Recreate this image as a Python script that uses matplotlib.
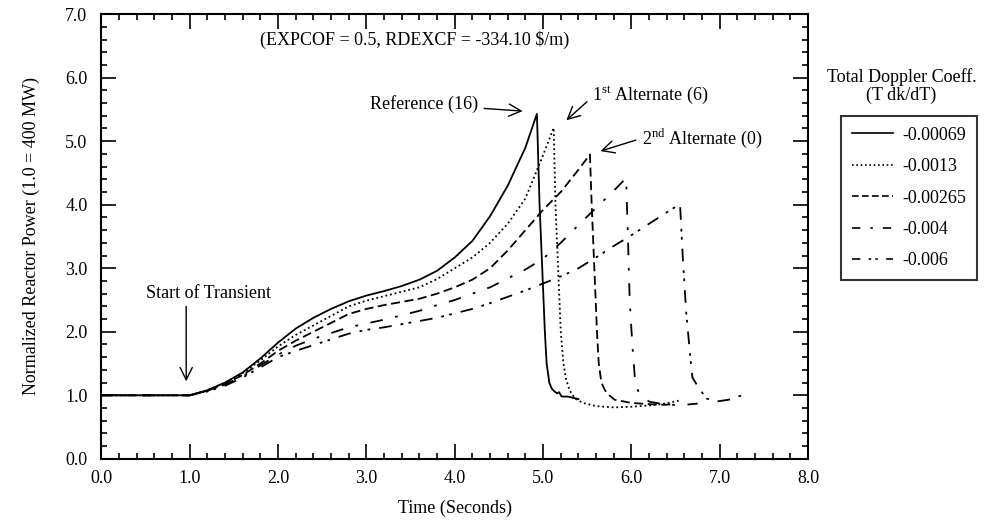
import matplotlib
matplotlib.use("Agg")
import matplotlib.pyplot as plt
from matplotlib.lines import Line2D
from matplotlib.ticker import MultipleLocator, FormatStrFormatter

plt.rcParams['font.family'] = ['Liberation Serif', 'DejaVu Serif']

# ---- data ----
t_a = [0, 1.0, 1.2, 1.4, 1.6, 1.8, 2.0, 2.2, 2.4, 2.6, 2.8, 3.0, 3.2, 3.4, 3.6, 3.8, 4.0, 4.2, 4.4, 4.6, 4.8, 4.93,
       4.96, 4.99, 5.02, 5.04, 5.07, 5.10, 5.13, 5.16, 5.18, 5.21, 5.28, 5.40]
p_a = [1.0, 1.0, 1.08, 1.2, 1.36, 1.58, 1.83, 2.05, 2.22, 2.36, 2.48, 2.57, 2.64, 2.72, 2.82, 2.96, 3.17, 3.43, 3.82, 4.3, 4.9, 5.43,
       4.0, 3.0, 2.0, 1.5, 1.2, 1.1, 1.06, 1.03, 1.05, 0.98, 0.98, 0.94]

t_b = [0, 1.0, 1.2, 1.4, 1.6, 1.8, 2.0, 2.2, 2.4, 2.6, 2.8, 3.0, 3.2, 3.4, 3.6, 3.8, 4.0, 4.2, 4.4, 4.6, 4.8, 5.0, 5.12,
       5.14, 5.17, 5.20, 5.23, 5.26, 5.30, 5.36, 5.45, 5.6, 5.8, 6.0, 6.2, 6.38, 6.55]
p_b = [1.0, 1.0, 1.08, 1.2, 1.35, 1.55, 1.77, 1.95, 2.1, 2.25, 2.4, 2.49, 2.56, 2.63, 2.7, 2.83, 3.0, 3.17, 3.4, 3.7, 4.1, 4.78, 5.21,
       4.0, 3.0, 2.0, 1.5, 1.25, 1.08, 0.95, 0.88, 0.83, 0.81, 0.82, 0.84, 0.87, 0.92]

t_c = [0, 1.0, 1.2, 1.4, 1.6, 1.8, 2.0, 2.2, 2.4, 2.6, 2.8, 3.0, 3.2, 3.4, 3.6, 3.8, 4.0, 4.2, 4.4, 4.6, 4.8, 5.0, 5.2, 5.4, 5.53,
       5.55, 5.58, 5.61, 5.63, 5.66, 5.70, 5.75, 5.81, 6.0, 6.2, 6.38, 6.45]
p_c = [1.0, 1.0, 1.07, 1.18, 1.32, 1.5, 1.7, 1.86, 2.0, 2.14, 2.28, 2.36, 2.42, 2.47, 2.52, 2.6, 2.7, 2.82, 3.0, 3.28, 3.6, 3.92, 4.2, 4.55, 4.79,
       4.0, 3.0, 2.0, 1.5, 1.2, 1.08, 1.0, 0.93, 0.88, 0.86, 0.85, 0.86]

t_d = [0, 1.0, 1.2, 1.4, 1.6, 1.8, 2.0, 2.2, 2.4, 2.6, 2.8, 3.0, 3.2, 3.4, 3.6, 3.8, 4.0, 4.2, 4.4, 4.6, 4.8, 5.0, 5.2, 5.4, 5.6, 5.8, 5.94,
       5.96, 5.98, 6.01, 6.04, 6.08, 6.2, 6.4, 6.6, 6.75]
p_d = [1.0, 1.0, 1.07, 1.17, 1.3, 1.47, 1.64, 1.78, 1.89, 1.98, 2.07, 2.13, 2.19, 2.26, 2.33, 2.42, 2.5, 2.6, 2.7, 2.84, 2.98, 3.15, 3.4, 3.68, 3.95, 4.22, 4.42,
       3.5, 2.5, 1.8, 1.25, 1.05, 0.9, 0.85, 0.85, 0.87]

t_e = [0, 1.0, 1.2, 1.4, 1.6, 1.8, 2.0, 2.2, 2.4, 2.6, 2.8, 3.0, 3.2, 3.4, 3.6, 3.8, 4.0, 4.2, 4.4, 4.6, 4.8, 5.0, 5.2, 5.4, 5.6, 5.8, 6.0, 6.2, 6.4, 6.55,
       6.58, 6.62, 6.66, 6.69, 6.76, 6.85, 6.95, 7.1, 7.25]
p_e = [1.0, 1.0, 1.06, 1.15, 1.28, 1.44, 1.6, 1.7, 1.79, 1.88, 1.97, 2.03, 2.07, 2.12, 2.17, 2.22, 2.29, 2.36, 2.45, 2.55, 2.65, 2.76, 2.87, 3.0, 3.17, 3.35, 3.52, 3.7, 3.88, 4.01,
       3.2, 2.3, 1.7, 1.28, 1.12, 0.95, 0.9, 0.93, 1.0]

labels = ['-0.00069', '-0.0013', '-0.00265', '-0.004', '-0.006']
xticks = [0, 1, 2, 3, 4, 5, 6, 7, 8]
yticks = [0, 1, 2, 3, 4, 5, 6, 7]

styles = ['-', (0, (1, 1.6)), (0, (5, 2.5)), (0, (7, 7, 1.5, 7)), (0, (7, 5, 1.5, 3, 1.5, 5))]
leg_styles = ['-', (0, (1, 1.6)), (0, (4, 2)), (0, (5, 6, 1.5, 6)), (0, (5, 5, 1.5, 2.5, 1.5, 5))]

fs = 13
fig = plt.figure(figsize=(9.94, 5.22), dpi=100)
ax = fig.add_axes([0.102, 0.121, 0.711, 0.852])

for (tt, pp), ls in zip([(t_a, p_a), (t_b, p_b), (t_c, p_c), (t_d, p_d), (t_e, p_e)], styles):
    ax.plot(tt, pp, color='black', lw=1.3, linestyle=ls)

ax.set_xlim(0, 8)
ax.set_ylim(0, 7)
ax.set_xticks(xticks)
ax.set_yticks(yticks)
ax.xaxis.set_major_formatter(FormatStrFormatter('%.1f'))
ax.yaxis.set_major_formatter(FormatStrFormatter('%.1f'))
ax.xaxis.set_minor_locator(MultipleLocator(0.2))
ax.yaxis.set_minor_locator(MultipleLocator(0.2))
ax.tick_params(which='both', direction='in', top=True, right=True, width=1.2, labelsize=fs)
ax.tick_params(which='major', length=11)
ax.tick_params(which='minor', length=4)
ax.tick_params(axis='x', pad=8)
ax.tick_params(axis='y', pad=10)
for s in ax.spines.values():
    s.set_linewidth(1.5)

ax.set_xlabel('Time (Seconds)', fontsize=fs, labelpad=9)
ax.set_ylabel('Normalized Reactor Power (1.0 = 400 MW)', fontsize=fs, labelpad=18)

ax.text(3.55, 6.6, '(EXPCOF = 0.5, RDEXCF = -334.10 \\$/m)', fontsize=fs, ha='center', va='center')

arrow = dict(arrowstyle='->', color='black', lw=1.0, mutation_scale=22)
ax.annotate('Reference (16)', xy=(4.8, 5.47), xytext=(4.27, 5.58), fontsize=fs,
            ha='right', va='center', arrowprops=arrow)
ax.annotate('', xy=(5.24, 5.30), xytext=(5.52, 5.65), arrowprops=arrow)
ax.text(5.55, 5.72, r'1$^{\mathregular{st}}$ Alternate (6)', fontsize=fs, ha='left', va='center')
ax.annotate('', xy=(5.62, 4.83), xytext=(6.08, 5.03), arrowprops=arrow)
ax.text(6.12, 5.05, r'2$^{\mathregular{nd}}$ Alternate (0)', fontsize=fs, ha='left', va='center')
ax.text(0.5, 2.6, 'Start of Transient', fontsize=fs, ha='left', va='center')
ax.annotate('', xy=(0.96, 1.22), xytext=(0.96, 2.4),
            arrowprops=dict(arrowstyle='->', color='black', lw=1.0, mutation_scale=22,
                            shrinkA=0, shrinkB=0))

handles = [Line2D([], [], color='black', lw=1.2, linestyle=ls) for ls in leg_styles]
leg = fig.legend(handles, labels, loc='upper left', bbox_to_anchor=(0.846, 0.778),
                 fontsize=fs, frameon=True, fancybox=False, edgecolor='black',
                 handlelength=2.3, handletextpad=0.5, labelspacing=0.8, borderpad=0.6,
                 borderaxespad=0)
leg.get_frame().set_linewidth(1.5)
fig.text(0.907, 0.835, 'Total Doppler Coeff.\n(T dk/dT)', fontsize=fs, ha='center', va='center',
         linespacing=1.0)

fig.savefig('out.png', dpi=100)
